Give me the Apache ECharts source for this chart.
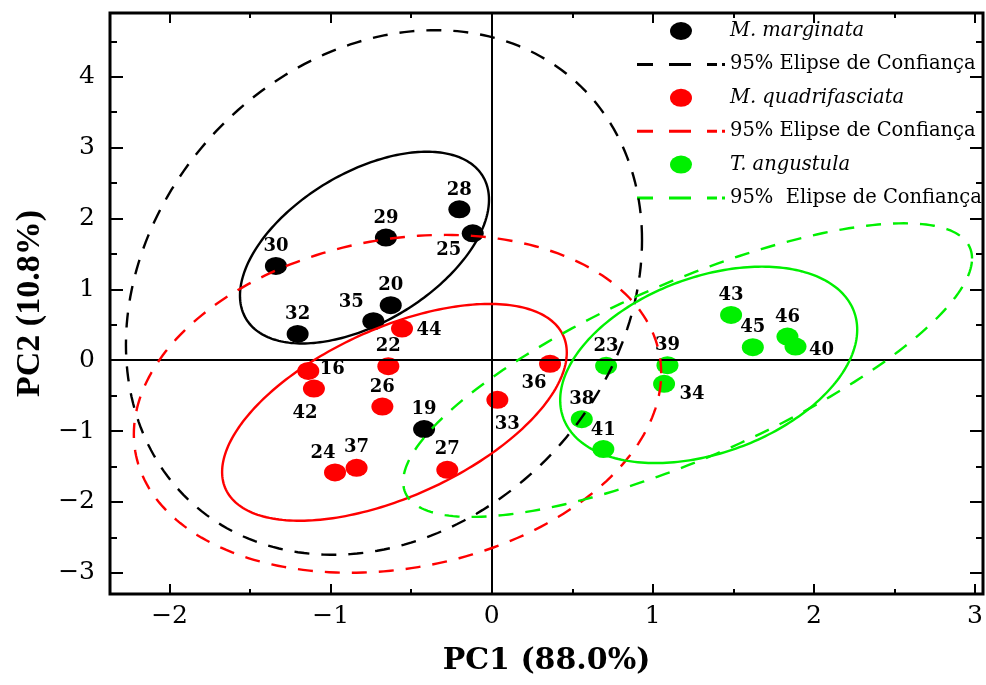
<!DOCTYPE html>
<html>
<head>
<meta charset="utf-8">
<script src="https://cdn.jsdelivr.net/npm/echarts@6/dist/echarts.min.js"></script>
<style>
  html, body { margin: 0; padding: 0; background: #fff; }
  #chart { width: 986px; height: 685px; }
</style>
</head>
<body>
<div id="chart"></div>
<script>
// axis ranges and ticks
const xMin = -2.37, xMax = 3.05;
const yMin = -3.3, yMax = 4.9;
const xMajor = [-2, -1, 0, 1, 2, 3];
const xMinor = [-1.5, -0.5, 0.5, 1.5, 2.5];
const yMajor = [-3, -2, -1, 0, 1, 2, 3, 4];
const yMinor = [-2.5, -1.5, -0.5, 0.5, 1.5, 2.5, 3.5, 4.5];

// M. marginata
const mmIds = ['28', '29', '25', '30', '20', '35', '32', '19'];
const mmX = [-0.201, -0.657, -0.118, -1.340, -0.627, -0.735, -1.205, -0.420];
const mmY = [2.13, 1.73, 1.79, 1.33, 0.776, 0.55, 0.37, -0.973];

// M. quadrifasciata
const mqIds = ['44', '22', '16', '42', '26', '24', '37', '27', '33', '36'];
const mqX = [-0.557, -0.642, -1.139, -1.104, -0.679, -0.973, -0.839, -0.276, 0.035, 0.362];
const mqY = [0.446, -0.085, -0.151, -0.40, -0.654, -1.585, -1.519, -1.547, -0.56, -0.052];

// T. angustula
const taIds = ['23', '39', '34', '38', '41', '43', '45', '46', '40'];
const taX = [0.710, 1.091, 1.070, 0.559, 0.693, 1.486, 1.621, 1.836, 1.886];
const taY = [-0.08, -0.07, -0.334, -0.832, -1.255, 0.639, 0.183, 0.333, 0.192];

// ellipses: [centre x, centre y, half width, half height, phase (deg)]
const mmEllipse = [-0.790, 1.589, 0.773, 1.353, 60];
const mmConf = [-0.669, 0.956, 1.602, 3.702, 78.5];
const mqEllipse = [-0.604, -0.736, 1.070, 1.530, 56.6];
const mqConf = [-0.585, -0.616, 1.637, 2.384, 79.6];
const taEllipse = [1.347, -0.066, 0.922, 1.386, 69];
const taConf = [1.216, -0.140, 1.766, 2.072, 40.5];

const names = ['M. marginata', '95% Elipse de Confiança', 'M. quadrifasciata',
  '95% Elipse de Confiança ', 'T. angustula', '95%  Elipse de Confiança'];

// where each point number sits relative to its marker (px)
const labelOffset = {
  '28': [0, -19], '29': [0, -19], '25': [-24, 17], '30': [0, -20], '20': [0, -20],
  '35': [-22, -19], '32': [0, -20], '19': [0, -20], '44': [27, 2], '22': [0, -20],
  '16': [24, -2], '42': [-9, 25], '26': [0, -19], '24': [-12, -19], '37': [0, -20],
  '27': [0, -20], '33': [10, 24], '36': [-16, 19], '23': [0, -20], '39': [0, -20],
  '34': [28, 10], '38': [0, -20], '41': [0, -19], '43': [0, -20], '45': [0, -20],
  '46': [0, -19], '40': [26, 4]
};

const BLACK = '#000000', RED = '#ff0000', GREEN = '#00f000';
const serif = 'DejaVu Serif';

const chart = echarts.init(document.getElementById('chart'), null, { renderer: 'canvas' });

function points(ids, xs, ys) {
  return ids.map((id, i) => ({
    value: [xs[i], ys[i]],
    name: id,
    label: { offset: labelOffset[id] }
  }));
}

function scatter(name, color, ids, xs, ys) {
  return {
    name: name,
    type: 'scatter',
    symbol: 'circle',
    symbolSize: [22, 18],
    itemStyle: { color: color, opacity: 1 },
    z: 3,
    label: {
      show: true,
      position: 'inside',
      formatter: p => p.name,
      color: '#000',
      fontFamily: serif,
      fontWeight: 'bold',
      fontSize: 18
    },
    emphasis: { disabled: true },
    data: points(ids, xs, ys)
  };
}

function ellipse(name, color, params, dashed, extra) {
  return Object.assign({
    name: name,
    type: 'custom',
    z: 5,
    silent: true,
    itemStyle: { color: color },
    renderItem: (p, api) => {
      const cx = api.value(0), cy = api.value(1);
      const rx = api.value(2), ry = api.value(3);
      const ph = api.value(4) * Math.PI / 180;
      const pts = [];
      for (let i = 0; i < 240; i++) {
        const t = i / 240 * Math.PI * 2;
        pts.push(api.coord([cx + rx * Math.cos(t), cy + ry * Math.cos(t - ph)]));
      }
      return {
        type: 'polygon',
        shape: { points: pts },
        style: {
          fill: 'none',
          stroke: color,
          lineWidth: 2.4,
          lineDash: dashed ? [15, 12] : null
        }
      };
    },
    data: [params]
  }, extra || {});
}

const tickStyle = { color: '#000', width: 2 };

function xAxisOf(pos, values, len, withLabel) {
  return {
    type: 'value', position: pos, min: xMin, max: xMax,
    axisLine: { show: false, onZero: false },
    splitLine: { show: false },
    axisTick: { show: true, inside: true, length: len, customValues: values, lineStyle: tickStyle },
    axisLabel: withLabel ? {
      show: true, customValues: values, margin: 10,
      color: '#000', fontFamily: serif, fontSize: 25,
      formatter: v => String(v).replace('-', '\u2212')
    } : { show: false }
  };
}

function yAxisOf(pos, values, len, withLabel) {
  return {
    type: 'value', position: pos, min: yMin, max: yMax,
    axisLine: { show: false, onZero: false },
    splitLine: { show: false },
    axisTick: { show: true, inside: true, length: len, customValues: values, lineStyle: tickStyle },
    axisLabel: withLabel ? {
      show: true, customValues: values, margin: 15,
      color: '#000', fontFamily: serif, fontSize: 25,
      formatter: v => String(v).replace('-', '\u2212')
    } : { show: false }
  };
}

const xMain = xAxisOf('bottom', xMajor, 10, true);
xMain.name = 'PC1 (88.0%)';
xMain.nameLocation = 'middle';
xMain.nameGap = 52;
xMain.nameTextStyle = { color: '#000', fontFamily: serif, fontWeight: 'bold', fontSize: 30 };

const yMain = yAxisOf('left', yMajor, 13, true);
yMain.name = 'PC2 (10.8%)';
yMain.nameLocation = 'middle';
yMain.nameGap = 62;
yMain.nameTextStyle = { color: '#000', fontFamily: 'Liberation Serif', fontWeight: 'bold', fontSize: 34 };

const ellipseIcon = 'path://M0,9A11,9,0,1,1,22,9A11,9,0,1,1,0,9Z';
const dashIcon = 'path://M0,0H16V3H0Z M32,0H54V3H32Z M70,0H80V3H70Z M85,0H88V3H85Z';
const species = [names[0], names[2], names[4]];

const option = {
  animation: false,
  backgroundColor: '#fff',
  grid: {
    left: 110, top: 13, width: 873, height: 581,
    show: true, borderColor: '#000', borderWidth: 3, backgroundColor: 'transparent'
  },
  legend: {
    orient: 'vertical',
    left: 632, top: 15,
    itemWidth: 88, itemHeight: 18, itemGap: 11.4,
    selectedMode: false,
    data: names.map((n, i) => ({ name: n, icon: i % 2 === 0 ? ellipseIcon : dashIcon })),
    formatter: n => species.includes(n) ? '{i|' + n + '}' : n,
    textStyle: {
      color: '#000', fontFamily: serif, fontSize: 19.5, lineHeight: 22,
      rich: { i: { fontStyle: 'italic', fontFamily: serif, fontSize: 19.5, lineHeight: 22, color: '#000' } }
    }
  },
  xAxis: [
    xMain,
    xAxisOf('bottom', xMinor, 5, false),
    xAxisOf('top', xMajor, 10, false),
    xAxisOf('top', xMinor, 5, false)
  ],
  yAxis: [
    yMain,
    yAxisOf('left', yMinor, 7, false),
    yAxisOf('right', yMajor, 13, false),
    yAxisOf('right', yMinor, 7, false)
  ],
  series: [
    scatter(names[0], BLACK, mmIds, mmX, mmY),
    scatter(names[2], RED, mqIds, mqX, mqY),
    scatter(names[4], GREEN, taIds, taX, taY),
    ellipse('mm-ellipse', BLACK, mmEllipse, false),
    ellipse(names[1], BLACK, mmConf, true),
    ellipse('mq-ellipse', RED, mqEllipse, false),
    ellipse(names[3], RED, mqConf, true),
    ellipse('ta-ellipse', GREEN, taEllipse, false),
    ellipse(names[5], GREEN, taConf, true, {
      markLine: {
        silent: true,
        symbol: 'none',
        label: { show: false },
        lineStyle: { color: '#000', type: 'solid', width: 2 },
        data: [{ xAxis: 0 }, { yAxis: 0 }]
      }
    })
  ]
};

chart.setOption(option);
</script>
</body>
</html>
